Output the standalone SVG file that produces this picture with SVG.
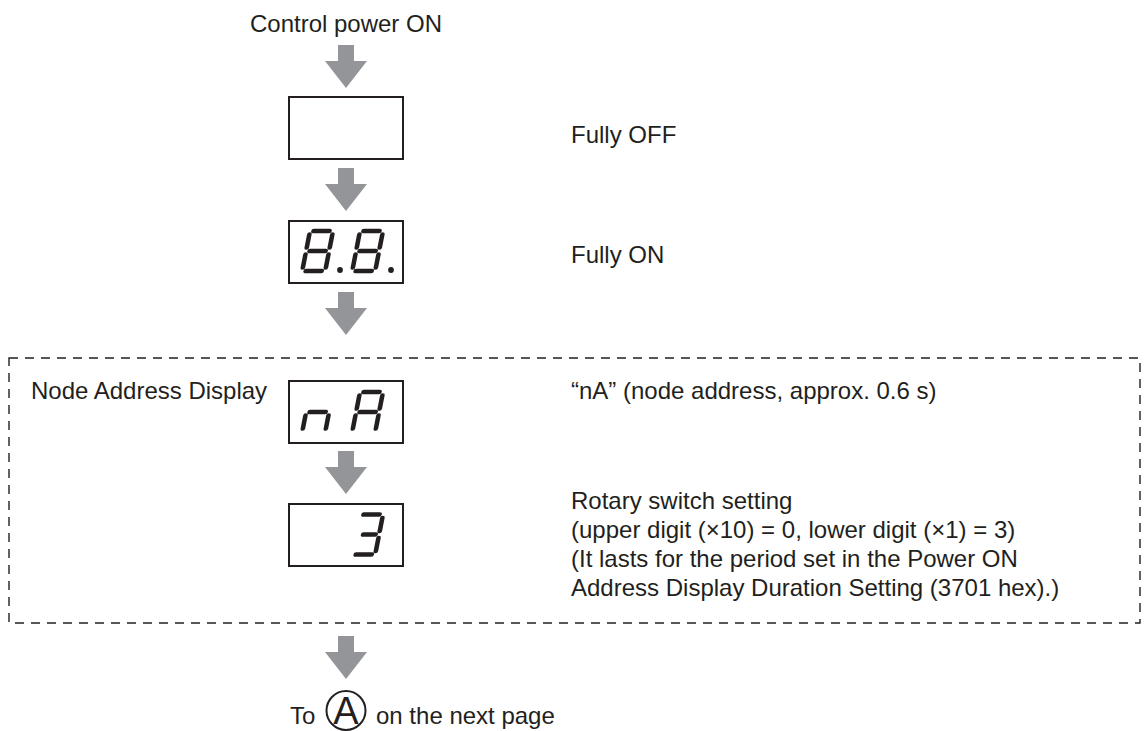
<svg xmlns="http://www.w3.org/2000/svg" width="1146" height="731" viewBox="0 0 1146 731">
<style>
  .t { font-family: "Liberation Sans", Arial, sans-serif; font-size: 24px; fill: #231f20; }
  .box { fill: #ffffff; stroke: #231f20; stroke-width: 2; }
  .seg { stroke: #231f20; stroke-width: 4.6; stroke-linecap: round; fill: none; }
  .dot { fill: #231f20; }
  .dash { fill: none; stroke: #231f20; stroke-width: 1.4; stroke-dasharray: 9 7; }
  .arrow { fill: #939598; }
</style>
<defs>
  <polygon id="arr" points="338,0 354,0 354,16 367,16 346,43 325,16 338,16"/>
</defs>
<rect width="1146" height="731" fill="#ffffff"/>

<g id="connectors">
  <use href="#arr" class="arrow" y="45"/>
  <use href="#arr" class="arrow" y="168"/>
  <use href="#arr" class="arrow" y="292"/>
  <use href="#arr" class="arrow" y="451"/>
  <use href="#arr" class="arrow" y="636"/>
</g>

<g id="group-node-address">
  <rect class="dash" x="9" y="358" width="1131" height="265"/>
  <text class="t" x="31" y="399">Node Address Display</text>
</g>

<g id="start">
  <text class="t" x="346" y="32" text-anchor="middle">Control power ON</text>
</g>

<g id="fully-off">
  <rect class="box" x="289" y="97" width="114" height="62"/>
  <text class="t" x="571" y="143">Fully OFF</text>
</g>

<g id="fully-on">
  <rect class="box" x="289" y="221" width="114" height="62"/>
  <g class="seg" transform="translate(310,231) skewX(-11)">
    <path d="M3.5 0H19.5M23 3.5V16.5M23 23.5V36.5M3.5 40H19.5M0 23.5V36.5M0 3.5V16.5M3.5 20H19.5"/>
  </g>
  <g class="seg" transform="translate(360,231) skewX(-11)">
    <path d="M3.5 0H19.5M23 3.5V16.5M23 23.5V36.5M3.5 40H19.5M0 23.5V36.5M0 3.5V16.5M3.5 20H19.5"/>
  </g>
  <circle class="dot" cx="340" cy="270" r="2.9"/>
  <circle class="dot" cx="391" cy="270" r="2.9"/>
  <text class="t" x="571" y="263">Fully ON</text>
</g>

<g id="node-address-na">
  <rect class="box" x="289" y="381" width="114" height="62"/>
  <g class="seg" transform="translate(310,392) skewX(-11)">
    <path d="M3.5 20H19.5M23 23.5V36.5M0 23.5V36.5"/>
  </g>
  <g class="seg" transform="translate(360,392) skewX(-11)">
    <path d="M3.5 0H19.5M23 3.5V16.5M23 23.5V36.5M0 23.5V36.5M0 3.5V16.5M3.5 20H19.5"/>
  </g>
  <text class="t" x="571" y="399">“nA” (node address, approx. 0.6 s)</text>
</g>

<g id="rotary-switch">
  <rect class="box" x="289" y="504" width="114" height="62"/>
  <g class="seg" transform="translate(360,514.5) skewX(-11)">
    <path d="M3.5 0H19.5M23 3.5V16.5M23 23.5V36.5M3.5 40H19.5M7 20H19.5"/>
  </g>
  <text class="t" x="571" y="509">Rotary switch setting</text>
  <text class="t" x="571" y="538">(upper digit (×10) = 0, lower digit (×1) = 3)</text>
  <text class="t" x="571" y="567">(It lasts for the period set in the Power ON</text>
  <text class="t" x="571" y="596">Address Display Duration Setting (3701 hex).)</text>
</g>

<g id="next-page">
  <text class="t" x="290" y="724">To</text>
  <circle cx="346" cy="710.5" r="19.5" fill="none" stroke="#231f20" stroke-width="2"/>
  <text class="t" x="346" y="724" text-anchor="middle" style="font-size:38px">A</text>
  <text class="t" x="376" y="724">on the next page</text>
</g>
</svg>
